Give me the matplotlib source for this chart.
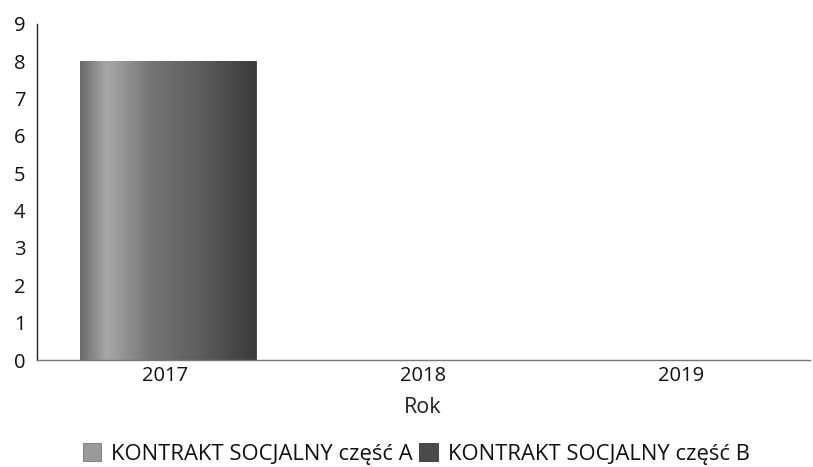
import matplotlib
matplotlib.use("Agg")
import matplotlib.pyplot as plt
import numpy as np
from matplotlib.colors import LinearSegmentedColormap
from matplotlib.patches import Patch

years = ["2017", "2018", "2019"]
series_a = [8, 0, 0]
series_b = [0, 0, 0]
series_names = ["KONTRAKT SOCJALNY część A", "KONTRAKT SOCJALNY część B"]
yticks = list(range(0, 10))

plt.rcParams['font.family'] = ['Open Sans', 'DejaVu Sans']

fig = plt.figure(figsize=(8.13, 4.67), dpi=100)
ax = fig.add_axes([0.045, 0.229, 0.951, 0.72])

x = np.arange(len(years))
width = 0.68
bars_a = ax.bar(x + 0.01, series_a, width, color='none', label=series_names[0])
bars_b = ax.bar(x + 0.01, series_b, width, bottom=series_a, color='none', label=series_names[1])

grad_a = LinearSegmentedColormap.from_list('ga', [
    (0.0, '#6a6a6a'), (0.15, '#a8a8a8'), (0.4, '#757575'),
    (0.7, '#5c5c5c'), (1.0, '#3a3a3a')])
grad_b = LinearSegmentedColormap.from_list('gb', [
    (0.0, '#4a4a4a'), (0.15, '#7a7a7a'), (0.5, '#3a3a3a'), (1.0, '#1e1e1e')])

g = np.linspace(0, 1, 256).reshape(1, -1)
for bars, cmap in ((bars_a, grad_a), (bars_b, grad_b)):
    for b in bars:
        h = b.get_height()
        if h <= 0:
            continue
        x0, y0 = b.get_x(), b.get_y()
        im = ax.imshow(g, cmap=cmap, aspect='auto',
                       extent=[x0, x0 + b.get_width(), y0, y0 + h],
                       zorder=2, interpolation='bilinear')
        im.set_clip_path(b)
        b.set_edgecolor('#2a2a2a')
        b.set_linewidth(0.6)

ax.set_xlim(-0.5, len(years) - 0.5)
ax.set_ylim(0, 9)
ax.set_yticks(yticks)
ax.set_xticks(x)
ax.set_xticklabels(years)
ax.tick_params(axis='both', length=0, labelsize=14.5, colors='#111111')
ax.tick_params(axis='x', pad=4)
ax.tick_params(axis='y', pad=8)
for s in ('top', 'right'):
    ax.spines[s].set_visible(False)
ax.spines['left'].set_color('#222222')
ax.spines['left'].set_linewidth(1.0)
ax.spines['bottom'].set_color('#777777')
ax.spines['bottom'].set_linewidth(1.0)
ax.set_xlabel("Rok", fontsize=15.5, color='#222222', labelpad=8)

handles = [Patch(facecolor='#9a9a9a', edgecolor='#666666', linewidth=0.5),
           Patch(facecolor='#4a4a4a', edgecolor='#222222', linewidth=0.5)]
fig.legend(handles, series_names, loc='center', bbox_to_anchor=(0.512, 0.028),
           ncol=2, frameon=False, fontsize=15.8, handlelength=0.85, handleheight=0.85,
           handletextpad=0.45, columnspacing=0.3, labelcolor='#111111',
           borderpad=0, borderaxespad=0)

fig.savefig("out.png", dpi=100)
